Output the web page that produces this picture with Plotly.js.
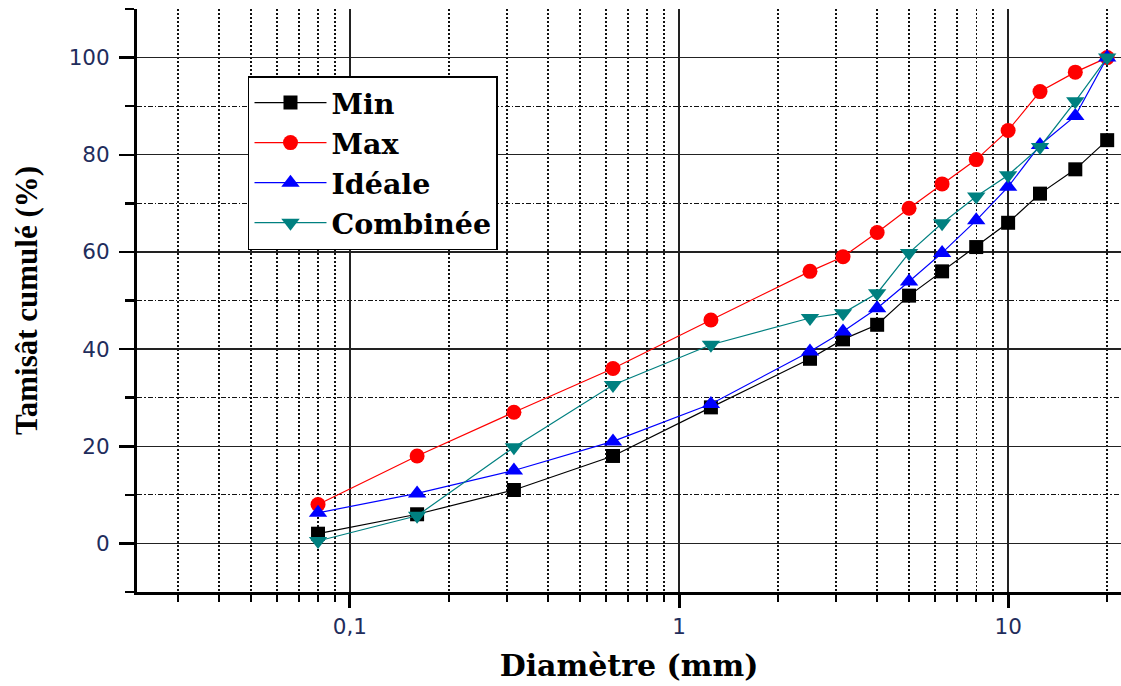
<!DOCTYPE html>
<html>
<head>
<meta charset="utf-8">
<script src="https://cdn.plot.ly/plotly-3.0.1.min.js"></script>
<style>html,body{margin:0;padding:0;background:#fff;}#chart{width:1121px;height:686px;}</style>
</head>
<body>
<div id="chart"></div>
<script>
// Sieve sizes (mm)
const diametre = [0.08, 0.16, 0.315, 0.63, 1.25, 2.5, 3.15, 4, 5, 6.3, 8, 10, 12.5, 16, 20];
// Cumulative passing (%)
const minVals      = [2, 6, 11, 18, 28, 38, 42, 45, 51, 56, 61, 66, 72, 77, 83];
const maxVals      = [8, 18, 27, 36, 46, 56, 59, 64, 69, 74, 79, 85, 93, 97, 100];
const idealeVals   = [6.3, 10.3, 15, 21, 28.7, 39.5, 43.6, 48.4, 53.9, 59.8, 66.5, 73.4, 82, 88, 100];
const combineeVals = [0.5, 5.7, 19.8, 32.6, 40.9, 46.4, 47.4, 51.5, 59.8, 65.9, 71.4, 75.8, 81.6, 91, 100];
const seriesNames  = ['Min', 'Max', 'Idéale', 'Combinée'];

const xMajorVals = [0.1, 1, 10];
const xMajorText = ['0,1', '1', '10'];
const xMinorVals = [0.03,0.04,0.05,0.06,0.07,0.08,0.09,0.2,0.3,0.4,0.5,0.6,0.7,0.8,0.9,2,3,4,5,6,7,8,9,20];

function tr(name, y, color, symbol, size) {
  return {
    x: diametre, y: y, name: name, type: 'scatter', mode: 'lines+markers',
    line: {color: color, width: 1.2},
    marker: {color: color, symbol: symbol, size: size}
  };
}
const data = [
  tr(seriesNames[0], minVals, '#000000', 'square', 14),
  tr(seriesNames[1], maxVals, '#ff0000', 'circle', 15),
  tr(seriesNames[2], idealeVals, '#0000ff', 'triangle-up', 16),
  tr(seriesNames[3], combineeVals, '#008080', 'triangle-down', 16)
];

const tickFont = {family: 'DejaVu Sans', size: 21.5, color: '#1f2d5c'};
const layout = {
  width: 1121, height: 686,
  margin: {l: 137, r: 0, t: 9, b: 94},
  paper_bgcolor: '#ffffff', plot_bgcolor: '#ffffff',
  showlegend: true,
  legend: {
    x: 0.1128, y: 0.885, xanchor: 'left', yanchor: 'top',
    bgcolor: '#ffffff', bordercolor: '#000000', borderwidth: 1.5,
    font: {family: 'DejaVu Serif', size: 28.5, weight: 'bold', color: '#000000'},
    itemwidth: 72, tracegroupgap: 0
  },
  xaxis: {
    type: 'log', range: [-1.647, 1.343],
    tickmode: 'array', tickvals: xMajorVals, ticktext: xMajorText,
    ticks: 'outside', ticklen: 13, tickwidth: 3, tickcolor: '#000',
    showline: true, linewidth: 3, linecolor: '#000',
    showgrid: true, gridcolor: '#222', gridwidth: 1.3,
    zeroline: false, tickfont: tickFont,
    minor: {tickmode: 'array', tickvals: xMinorVals, ticks: 'outside', ticklen: 7, tickwidth: 2.5, tickcolor: '#000',
            showgrid: true, gridcolor: '#111', gridwidth: 1.4, griddash: '2px,2px'},
    title: {text: 'Diamètre (mm)', font: {family: 'DejaVu Serif', size: 30, weight: 'bold', color: '#000'}, standoff: 18},
    automargin: false
  },
  yaxis: {
    range: [-10, 110], tickmode: 'linear', tick0: 0, dtick: 20,
    ticks: 'outside', ticklen: 15, tickwidth: 2.5, tickcolor: '#000',
    showline: true, linewidth: 3, linecolor: '#000',
    showgrid: true, gridcolor: '#222', gridwidth: 1.3,
    zeroline: false, tickfont: tickFont, ticklabelstandoff: 5,
    minor: {dtick: 10, ticks: 'outside', ticklen: 9, tickwidth: 2.5, tickcolor: '#000',
            showgrid: true, gridcolor: '#111', gridwidth: 1.3, griddash: '5px,2px,1.5px,2px'},
    title: {text: 'Tamisât cumulé (%)', font: {family: 'Liberation Serif', size: 31, weight: 'bold', color: '#000'}, standoff: 22},
    automargin: false
  },
  xaxis2: {
    overlaying: 'x', side: 'top', anchor: 'y', range: [0, 9.965],
    tickmode: 'linear', tick0: 0, dtick: 2, ticks: 'inside', ticklen: 13, tickwidth: 3, tickcolor: '#000',
    showticklabels: false, showgrid: false, zeroline: false,
    showline: true, linewidth: 3, linecolor: '#000',
    minor: {dtick: 1, ticks: 'inside', ticklen: 6, tickwidth: 3, tickcolor: '#000', showgrid: false}
  },
  yaxis2: {
    overlaying: 'y', side: 'right', anchor: 'x', range: [-0.05, 10],
    tickmode: 'linear', tick0: 0, dtick: 2, ticks: 'inside', ticklen: 13, tickwidth: 3, tickcolor: '#000',
    showticklabels: false, showgrid: false, zeroline: false,
    showline: true, linewidth: 3, linecolor: '#000',
    minor: {dtick: 1, ticks: 'inside', ticklen: 6, tickwidth: 3, tickcolor: '#000', showgrid: false}
  }
};

Plotly.newPlot('chart', data, layout, {displayModeBar: false, staticPlot: true});
</script>
</body>
</html>
